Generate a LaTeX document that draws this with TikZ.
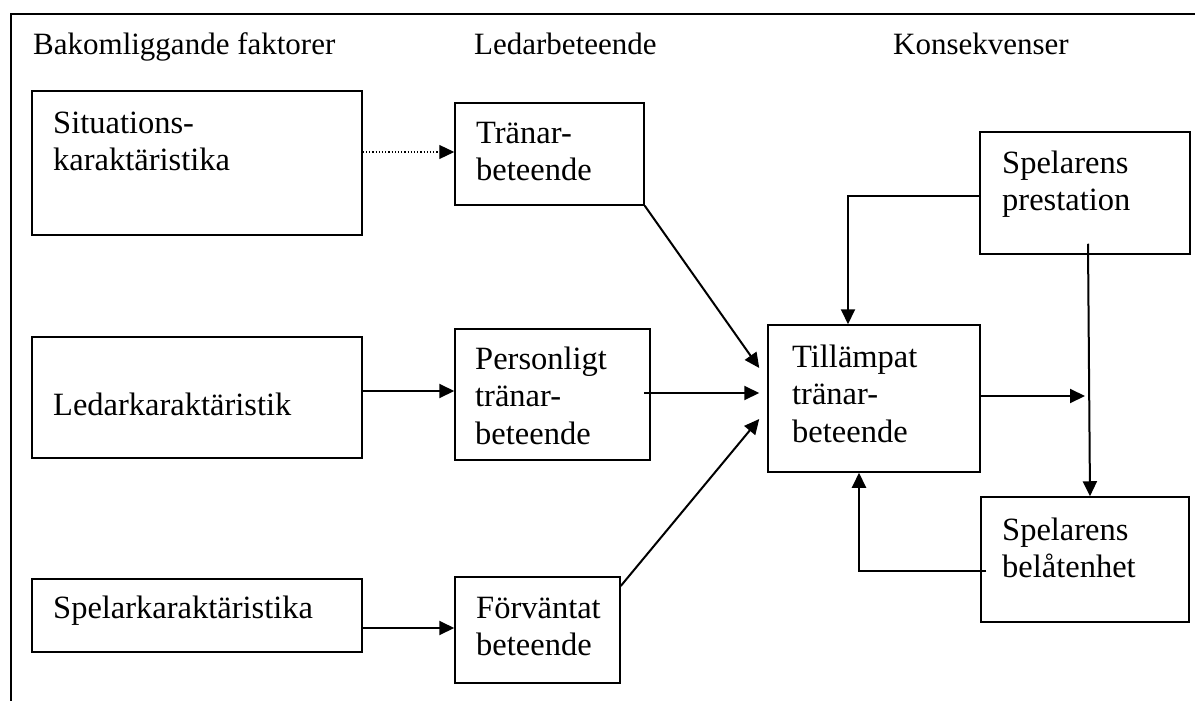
\documentclass[tikz,border=0pt]{standalone}
\usepackage{fontspec}
\setmainfont{Liberation Serif}
\usetikzlibrary{arrows.meta,fit,calc}
\newcommand\ltwo[2]{\vtop{\baselineskip=37.5pt\hbox{#1}\hbox{#2}}}
\newcommand\lthree[3]{\vtop{\baselineskip=37.5pt\hbox{#1}\hbox{#2}\hbox{#3}}}
\begin{document}
\begin{tikzpicture}[x=1pt,y=-1pt,
  box/.style={draw, line width=1.5pt, inner sep=0pt},
  txt/.style={inner sep=0pt, anchor=base west, font=\fontsize{32.5}{37.5}\selectfont},
  head/.style={txt, font=\fontsize{31}{36}\selectfont},
  arr/.style={line width=2pt, -{Triangle[length=15pt,width=14pt]}},
  dotarr/.style={line width=1.2pt, dotted, -{Triangle[length=15pt,width=14pt]}},
  frame/.style={line width=2pt}]
\useasboundingbox (0,0) rectangle (1195,701);
\draw[frame] (11,701) -- (11,14) -- (1195,14);

% headers
\node[head] (h1) at (33,55) {Bakomliggande faktorer};
\node[head] (h2) at (474,55) {Ledarbeteende};
\node[head] (h3) at (893,55) {Konsekvenser};

% boxes
\node[box, fit={(32,91)(362,235)}] (b1) {};
\node[box, fit={(32,337)(362,458)}] (b2) {};
\node[box, fit={(32,579)(362,652)}] (b3) {};
\node[box, fit={(455,103)(644,205)}] (t1) {};
\node[box, fit={(455,329)(650,460)}] (t2) {};
\node[box, fit={(455,577)(620,683)}] (t3) {};
\node[box, fit={(768,325)(980,472)}] (c) {};
\node[box, fit={(980,132)(1190,254)}] (sp) {};
\node[box, fit={(981,497)(1189,622)}] (sb) {};

% texts
\node[txt] (b1t) at (53,133) {\ltwo{Situations-}{karaktäristika}};
\node[txt] (t1t) at (476,143) {\ltwo{Tränar-}{beteende}};
\node[txt] (b2t) at (53,415) {Ledarkaraktäristik};
\node[txt] (t2t) at (475,369) {\lthree{Personligt}{tränar-}{beteende}};
\node[txt] (b3t) at (53,618) {Spelarkaraktäristika};
\node[txt] (t3t) at (476,618) {\ltwo{Förväntat}{beteende}};
\node[txt] (ct) at (792,367) {\lthree{Tillämpat}{tränar-}{beteende}};
\node[txt] (spt) at (1002,173) {\ltwo{Spelarens}{prestation}};
\node[txt] (sbt) at (1002,540) {\ltwo{Spelarens}{belåtenhet}};

% connectors
\coordinate (cend) at (1085,396);
\draw[dotarr] (b1.east |- 0,152) -- (t1.west |- 0,152);
\draw[arr] (b2.east |- 0,391) -- (t2.west |- 0,391);
\draw[arr] (b3.east |- 0,628) -- (t3.west |- 0,628);
\draw[arr] (t1.south east) -- ($(c.west |- 0,368)+(-8,0)$);
\draw[arr] ($(t2.east |- 0,393)+(-7,0)$) -- ($(c.west |- 0,393)+(-8,0)$);
\draw[arr] (t3.east |- 0,586) -- ($(c.west |- 0,419)+(-8,0)$);
\draw[arr] (c.east |- cend) -- (cend);
\draw[arr] ($(sp.south -| 1088,0)+(0,-11)$) -- (sb.north -| 1090,0);
\draw[arr] (sp.west |- 0,196) -| (c.north -| 848,0);
\draw[arr] ($(sb.west |- 0,571)+(6,0)$) -| (c.south -| 859,0);
\end{tikzpicture}
\end{document}
